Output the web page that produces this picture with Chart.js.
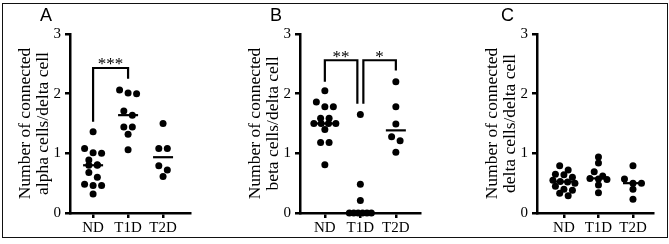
<!DOCTYPE html>
<html>
<head>
<meta charset="utf-8">
<script src="https://cdn.jsdelivr.net/npm/chart.js@4.4.0/dist/chart.umd.min.js"></script>
<style>
  body { margin: 0; background: #fff; }
  #fig { position: relative; width: 669px; height: 244px; }
  .panel { position: absolute; top: 0; width: 223px; height: 244px; }
  .letter { position: absolute; top: 5px; font: 18px Arial, "Liberation Sans", sans-serif; color: #000; }
  .frame { position: absolute; left: 2px; top: 3px; width: 666px; height: 235px; box-sizing: border-box;
           border: 1.5px solid #111; pointer-events: none; }
</style>
</head>
<body>
<div id="fig">
  <div class="panel" style="left:0px"><canvas id="cA" width="223" height="244"></canvas></div>
  <div class="panel" style="left:223px"><canvas id="cB" width="223" height="244"></canvas></div>
  <div class="panel" style="left:446px"><canvas id="cC" width="223" height="244"></canvas></div>
  <div class="letter" style="left:40px">A</div>
  <div class="letter" style="left:270px">B</div>
  <div class="letter" style="left:501px">C</div>
  <div class="frame"></div>
</div>
<script>
// groups + tick values
const groups = ["ND", "T1D", "T2D"];
const yTicks = [0, 1, 2, 3];

// A: connected alpha cells / delta cell
const alphaND  = [1.36, 1.08, 1.01, 1.00, 0.89, 0.81, 0.80, 0.80, 0.68, 0.60, 0.48, 0.46, 0.46, 0.32];
const alphaT1D = [2.06, 2.01, 2.00, 1.71, 1.64, 1.44, 1.44, 1.32, 1.06];
const alphaT2D = [1.50, 1.08, 1.08, 0.79, 0.72, 0.61];

// B: connected beta cells / delta cell
const betaND  = [2.05, 1.86, 1.78, 1.78, 1.59, 1.59, 1.50, 1.50, 1.50, 1.50, 1.40, 1.18, 1.18, 0.81];
const betaT1D = [1.65, 0.48, 0.21, 0, 0, 0, 0, 0, 0];
const betaT2D = [2.20, 1.78, 1.49, 1.28, 1.21, 1.02];

// C: connected delta cells / delta cell
const deltaND  = [0.79, 0.72, 0.65, 0.64, 0.60, 0.55, 0.53, 0.52, 0.50, 0.45, 0.40, 0.38, 0.33, 0.29];
const deltaT1D = [0.94, 0.84, 0.69, 0.62, 0.58, 0.57, 0.56, 0.47, 0.34];
const deltaT2D = [0.79, 0.57, 0.50, 0.50, 0.40, 0.23];

// significance brackets (group index 1..3, y in data units)
const bracketsA = [{ from: 1, to: 2, top: 2.43, fromEnd: 1.53, toEnd: 2.25, label: "***" }];
const bracketsB = [
  { from: 1, to: 2, top: 2.56, fromEnd: 2.20, toEnd: 1.83, label: "**" },
  { from: 2, to: 3, top: 2.56, fromEnd: 1.83, toEnd: 2.39, label: "*" }
];
const bracketsC = [];

const serif = '"Liberation Serif", "Times New Roman", serif';

const panels = [
  { id: "cA", title: ["Number of connected", "alpha cells/delta cell"], series: [alphaND, alphaT1D, alphaT2D],
    brackets: bracketsA, left: 70, right: 190, xMin: 0.34, xMax: 3.77 },
  { id: "cB", title: ["Number of connected", "beta cells/delta cell"], series: [betaND, betaT1D, betaT2D],
    brackets: bracketsB, left: 77, right: 197, xMin: 0.30, xMax: 3.68 },
  { id: "cC", title: ["Number of connected", "delta cells/delta cell"], series: [deltaND, deltaT1D, deltaT2D],
    brackets: bracketsC, left: 91, right: 207, xMin: 0.22, xMax: 3.58 }
];

function median(vals) {
  const s = [...vals].sort((a, b) => a - b);
  const n = s.length;
  return n % 2 ? s[(n - 1) / 2] : (s[n / 2 - 1] + s[n / 2]) / 2;
}

// prism-like scatter: close values go into one row, spread sideways
function swarm(vals, center, pxX, pxY) {
  const sorted = [...vals].sort((a, b) => b - a);
  const rows = [];
  sorted.forEach(v => {
    const row = rows[rows.length - 1];
    if (row && (row[0] - v) * pxY < 5) row.push(v);
    else rows.push([v]);
  });
  const pts = [];
  rows.forEach(row => {
    const n = row.length;
    const step = n > 1 ? Math.min(8.5, 22 / (n - 1)) : 0;
    row.forEach((v, k) => pts.push({ x: center + (k - (n - 1) / 2) * step / pxX, y: v }));
  });
  return pts;
}

function makeDecor(p) {
  return {
    id: "decor",
    afterDatasetsDraw(chart) {
      const { ctx, scales: { x, y } } = chart;
      ctx.save();
      ctx.strokeStyle = "#000";
      ctx.lineWidth = 2.2;
      // median lines
      p.series.forEach((vals, i) => {
        const cx = x.getPixelForValue(i + 1);
        const py = y.getPixelForValue(median(vals));
        ctx.beginPath();
        ctx.moveTo(cx - 10, py);
        ctx.lineTo(cx + 10, py);
        ctx.stroke();
      });
      // brackets
      p.brackets.forEach(b => {
        const shared = g => p.brackets.filter(o => o.from === g || o.to === g).length > 1;
        const x1 = x.getPixelForValue(b.from) + (shared(b.from) ? 3 : 0);
        const x2 = x.getPixelForValue(b.to) - (shared(b.to) ? 3 : 0);
        const yt = y.getPixelForValue(b.top);
        ctx.beginPath();
        ctx.moveTo(x1, y.getPixelForValue(b.fromEnd));
        ctx.lineTo(x1, yt);
        ctx.lineTo(x2, yt);
        ctx.lineTo(x2, y.getPixelForValue(b.toEnd));
        ctx.stroke();
        ctx.fillStyle = "#000";
        ctx.font = "17px " + serif;
        ctx.textAlign = "center";
        ctx.textBaseline = "middle";
        ctx.fillText(b.label, (x1 + x2) / 2, yt - 3);
      });
      ctx.restore();
    }
  };
}

panels.forEach(p => {
  const pxX = (p.right - p.left) / (p.xMax - p.xMin);
  const pxY = 179 / 3;
  new Chart(document.getElementById(p.id), {
    type: "scatter",
    data: {
      datasets: p.series.map((vals, i) => ({
        data: swarm(vals, i + 1, pxX, pxY),
        backgroundColor: "#000",
        borderWidth: 0,
        pointRadius: 3.5,
        pointHoverRadius: 3.5,
        clip: false
      }))
    },
    options: {
      responsive: false,
      animation: false,
      layout: { padding: { left: p.left - 56, right: 223 - p.right, top: 34, bottom: 0 } },
      plugins: { legend: { display: false }, tooltip: { enabled: false } },
      scales: {
        x: {
          type: "linear",
          min: p.xMin,
          max: p.xMax,
          afterFit: s => { s.height = 31; },
          afterBuildTicks: s => { s.ticks = groups.map((g, i) => ({ value: i + 1 })); },
          ticks: {
            callback: v => groups[v - 1],
            color: "#000",
            font: { family: serif, size: 15 },
            padding: 1,
            maxRotation: 0,
            autoSkip: false
          },
          grid: { drawOnChartArea: false, color: "#000", lineWidth: 2.5, tickLength: 5 },
          border: { color: "#000", width: 2.5 }
        },
        y: {
          min: 0,
          max: 3,
          afterFit: s => { s.width = 56; },
          afterBuildTicks: s => { s.ticks = yTicks.map(v => ({ value: v })); },
          ticks: { color: "#000", font: { family: serif, size: 15 }, padding: 4 },
          grid: { drawOnChartArea: false, color: "#000", lineWidth: 2.5, tickLength: 5 },
          border: { color: "#000", width: 2.5 },
          title: {
            display: true,
            text: p.title,
            color: "#000",
            font: { family: serif, size: 17.5, lineHeight: 1.0 },
            padding: { top: 3, bottom: 0 }
          }
        }
      }
    },
    plugins: [makeDecor(p)]
  });
});
</script>
</body>
</html>
